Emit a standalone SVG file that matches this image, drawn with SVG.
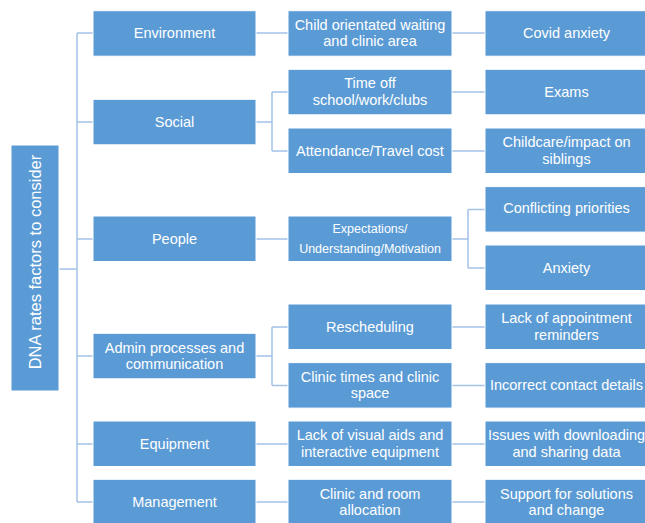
<svg xmlns="http://www.w3.org/2000/svg" width="645" height="523" viewBox="0 0 645 523">
<style>
.b{fill:#5b9bd5;stroke:#ffffff;stroke-width:1}
.t{font-family:"Liberation Sans",Arial,sans-serif;font-size:14.5px;fill:#ffffff;text-anchor:middle;dominant-baseline:central}
.s{font-size:12.5px}
.c{fill:none;stroke:#a3c2e6;stroke-width:1.5}
</style>
<rect width="645" height="523" fill="#ffffff"/>
<g id="connectors">
<path class="c" d="M59,269H77M77,33V502M77,33H93M77,122H93M77,239H93M77,356H93M77,444H93M77,502H93"/>
<path class="c" d="M256,33H288M256,122H272M272,92V151M272,92H288M272,151H288M256,239H288M256,356H272M272,327V385.5M272,327H288M272,385.5H288M256,444H288M256,502H288"/>
<path class="c" d="M452,33H485M452,92H485M452,151H485M452,239H468M468,209.5V268M468,209.5H485M468,268H485M452,327H485M452,385.5H485M452,444H485M452,502H485"/>
</g>
<g id="root"><rect class="b" x="11" y="145" width="48" height="246"/><text class="t" transform="translate(35,262) rotate(-90)" style="font-size:16.5px">DNA rates factors to consider</text></g>
<g id="environment"><rect class="b" x="93" y="10.7" width="163" height="45.5"/><text class="t" x="174.5" y="33.3">Environment</text></g>
<g id="social"><rect class="b" x="93" y="99.3" width="163" height="45.5"/><text class="t" x="174.5" y="122">Social</text></g>
<g id="people"><rect class="b" x="93" y="216" width="163" height="45.5"/><text class="t" x="174.5" y="239">People</text></g>
<g id="admin"><rect class="b" x="93" y="333.3" width="163" height="45.5"/><text class="t" x="174.5" y="348">Admin processes and</text><text class="t" x="174.5" y="364">communication</text></g>
<g id="equipment"><rect class="b" x="93" y="421" width="163" height="45.5"/><text class="t" x="174.5" y="444">Equipment</text></g>
<g id="management"><rect class="b" x="93" y="479.3" width="163" height="45.5"/><text class="t" x="174.5" y="502">Management</text></g>

<g id="child-area"><rect class="b" x="288" y="10.7" width="164" height="45.5"/><text class="t" x="370" y="25">Child orientated waiting</text><text class="t" x="370" y="41">and clinic area</text></g>
<g id="time-off"><rect class="b" x="288" y="69.3" width="164" height="45.5"/><text class="t" x="370" y="83">Time off</text><text class="t" x="370" y="99.5">school/work/clubs</text></g>
<g id="attendance"><rect class="b" x="288" y="128" width="164" height="45.5"/><text class="t" x="370" y="150.5">Attendance/Travel cost</text></g>
<g id="expectations"><rect class="b" x="288" y="216" width="164" height="45.5"/><text class="t s" x="370" y="229.3">Expectations/</text><text class="t s" x="370" y="249">Understanding/Motivation</text></g>
<g id="rescheduling"><rect class="b" x="288" y="304" width="164" height="45.5"/><text class="t" x="370" y="326.5">Rescheduling</text></g>
<g id="clinic-times"><rect class="b" x="288" y="362.6" width="164" height="45.5"/><text class="t" x="370" y="376.5">Clinic times and clinic</text><text class="t" x="370" y="393">space</text></g>
<g id="visual-aids"><rect class="b" x="288" y="421" width="164" height="45.5"/><text class="t" x="370" y="435">Lack of visual aids and</text><text class="t" x="370" y="451.5">interactive equipment</text></g>
<g id="room-allocation"><rect class="b" x="288" y="479.3" width="164" height="45.5"/><text class="t" x="370" y="493.5">Clinic and room</text><text class="t" x="370" y="510">allocation</text></g>

<g id="covid"><rect class="b" x="485" y="10.7" width="163" height="45.5"/><text class="t" x="566.5" y="33.3">Covid anxiety</text></g>
<g id="exams"><rect class="b" x="485" y="69.3" width="163" height="45.5"/><text class="t" x="566.5" y="91.5">Exams</text></g>
<g id="childcare"><rect class="b" x="485" y="128" width="163" height="45.5"/><text class="t" x="566.5" y="142">Childcare/impact on</text><text class="t" x="566.5" y="158.5">siblings</text></g>
<g id="conflicting"><rect class="b" x="485" y="186.6" width="163" height="45.5"/><text class="t" x="566.5" y="208">Conflicting priorities</text></g>
<g id="anxiety"><rect class="b" x="485" y="245" width="163" height="45.5"/><text class="t" x="566.5" y="267.5">Anxiety</text></g>
<g id="reminders"><rect class="b" x="485" y="304" width="163" height="45.5"/><text class="t" x="566.5" y="318">Lack of appointment</text><text class="t" x="566.5" y="334.5">reminders</text></g>
<g id="contact"><rect class="b" x="485" y="362.6" width="163" height="45.5"/><text class="t" x="566.5" y="384.5">Incorrect contact details</text></g>
<g id="downloading"><rect class="b" x="485" y="421" width="163" height="45.5"/><text class="t" x="566.5" y="435">Issues with downloading</text><text class="t" x="566.5" y="451.5">and sharing data</text></g>
<g id="support"><rect class="b" x="485" y="479.3" width="163" height="45.5"/><text class="t" x="566.5" y="493.5">Support for solutions</text><text class="t" x="566.5" y="510">and change</text></g>
</svg>
